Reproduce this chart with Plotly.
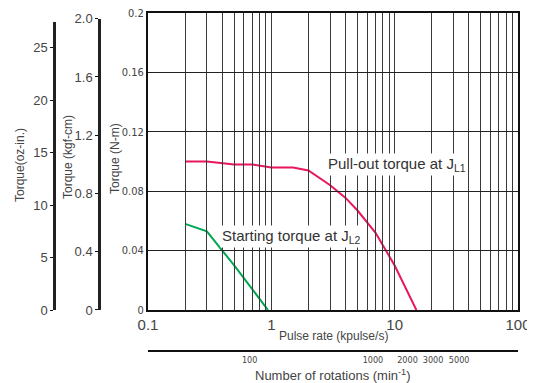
import plotly.graph_objects as go
import math

# ---- data ----
pullout_x = [0.2, 0.3, 0.5, 0.7, 1.0, 1.5, 2.0, 3.0, 4.0, 5.0, 7.0, 10.0, 15.0]
pullout_y = [0.100, 0.100, 0.098, 0.098, 0.096, 0.096, 0.094, 0.084, 0.0755, 0.067, 0.052, 0.030, 0.0]
start_x = [0.2, 0.3, 0.5, 0.94]
start_y = [0.058, 0.053, 0.030, 0.0]

x_minor = [m * 10 ** e for e in (-1, 0, 1) for m in range(1, 10)] + [100]
x_labels = {0.1: "0.1", 1: "1", 10: "10", 100: "100"}
nm_ticks = [0, 0.04, 0.08, 0.12, 0.16, 0.2]
nm_text = ["0", "0.04", "0.08", "0.12", "0.16", "0.2"]
kgf_ticks = [0, 0.4, 0.8, 1.2, 1.6, 2.0]
kgf_text = ["0", "0.4", "0.8", "1.2", "1.6", "2.0"]
oz_ticks = [0, 5, 10, 15, 20, 25]
rpm_ticks = [100, 1000, 2000, 3000, 5000]
rpm_text = ["100", "1000", "2000&nbsp;&nbsp;", "&nbsp;3000", "5000"]

NM_TO_KGFCM = 10.197
NM_TO_OZIN = 141.612
RPM_PER_KPPS = 150.0

# ---- layout geometry (page px; page body has an 8px margin) ----
OFF = 8
W, H = 535 - OFF, 383 - OFF
ML, MR, MT, MB = 2, 17, 5, 5
PW, PH = W - ML - MR, H - MT - MB
def px_x(p): return (p - OFF - ML) / PW
def px_y(p): return (H - MB - (p - OFF)) / PH

plot_left, plot_bottom, plot_top = 148, 310, 13
ydom0 = px_y(plot_bottom)
xdom = [px_x(plot_left), 1]
px_per_nm = (plot_bottom - plot_top) / 0.2

nm_max = 0.2
kgf_max = 2.0
oz_max = 27.5
kgf_top_px = plot_bottom - kgf_max / NM_TO_KGFCM * px_per_nm
oz_top_px = plot_bottom - oz_max / NM_TO_OZIN * px_per_nm

fig = go.Figure()
fig.add_trace(go.Scatter(x=pullout_x, y=pullout_y, mode="lines",
                         line=dict(color="#E8175D", width=2), showlegend=False, hoverinfo="skip"))
fig.add_trace(go.Scatter(x=start_x, y=start_y, mode="lines",
                         line=dict(color="#00A651", width=2), showlegend=False, hoverinfo="skip"))
# carriers for secondary axes
fig.add_trace(go.Scatter(x=[0.1, 0.1], y=[0, 2.0], xaxis="x", yaxis="y2", mode="lines",
                         line=dict(width=0), showlegend=False, hoverinfo="skip"))
fig.add_trace(go.Scatter(x=[0.1, 0.1], y=[0, 25], xaxis="x", yaxis="y3", mode="lines",
                         line=dict(width=0), showlegend=False, hoverinfo="skip"))
fig.add_trace(go.Scatter(x=[100, 1000], y=[0, 0], xaxis="x2", yaxis="y", mode="lines",
                         line=dict(width=0), showlegend=False, hoverinfo="skip"))

tick_font = dict(family="Liberation Sans, Arial", color="#444")
narrow = dict(family="Liberation Sans Narrow, DejaVu Sans Condensed, Roboto Condensed, Liberation Sans",
              color="#444")

fig.update_layout(
    width=W, height=H,
    margin=dict(l=ML, r=MR, t=MT, b=MB, autoexpand=False),
    paper_bgcolor="white", plot_bgcolor="rgba(0,0,0,0)",
    xaxis=dict(type="log", range=[-1, 2], domain=xdom, anchor="y", automargin=False,
               tickvals=x_minor,
               ticktext=[x_labels.get(round(v, 6), "") for v in x_minor],
               ticks="", showgrid=True, gridcolor="#3a3a3a", gridwidth=1.1,
               showline=True, linecolor="#111", linewidth=2, mirror=True,
               ticklabeloverflow="allow", tickangle=0,
               tickfont=dict(size=15, **tick_font), zeroline=False),
    yaxis=dict(range=[0, nm_max], domain=[ydom0, 1], anchor="x", automargin=False,
               tickvals=nm_ticks, ticktext=nm_text, ticks="", ticklabeloverflow="allow",
               showgrid=True, gridcolor="#222", gridwidth=1.4,
               showline=True, linecolor="#111", linewidth=2, mirror=True,
               tickfont=dict(size=11, **narrow), zeroline=False),
    yaxis2=dict(range=[0, kgf_max], domain=[ydom0, px_y(kgf_top_px)], anchor="free",
                position=px_x(99), tickvals=kgf_ticks, ticktext=kgf_text, automargin=False,
                ticks="outside", ticklen=3, tickcolor="#111", ticklabeloverflow="allow",
                showgrid=False, zeroline=False,
                showline=True, linecolor="#222", linewidth=2.5,
                tickfont=dict(size=13, **tick_font)),
    yaxis3=dict(range=[0, oz_max], domain=[ydom0, px_y(oz_top_px)], anchor="free",
                position=px_x(54), tickvals=oz_ticks, automargin=False,
                ticks="outside", ticklen=3, tickcolor="#111", ticklabeloverflow="allow",
                showgrid=False, zeroline=False,
                showline=True, linecolor="#222", linewidth=2.5,
                tickfont=dict(size=13, **tick_font)),
    xaxis2=dict(type="log", range=[math.log10(0.1 * RPM_PER_KPPS), math.log10(100 * RPM_PER_KPPS)],
                domain=xdom, anchor="free", position=px_y(351), automargin=False,
                tickvals=rpm_ticks, ticktext=rpm_text, ticks="", showgrid=False, zeroline=False,
                tickangle=0,
                showline=True, linecolor="#111", linewidth=2, ticklabeloverflow="allow",
                tickfont=dict(size=9, **narrow)),
)

title_font = dict(family="Liberation Sans, Arial", size=12, color="#444")
ann = [
    dict(text="Torque(oz-in.)", x=px_x(20), y=px_y(165), textangle=-90, font=title_font),
    dict(text="Torque (kgf-cm)", x=px_x(68), y=px_y(157), textangle=-90, font=title_font),
    dict(text="Torque (N-m)", x=px_x(115), y=px_y(159), textangle=-90, font=title_font),
    dict(text="Pulse rate (kpulse/s)", x=px_x(333), y=px_y(336),
         font=dict(family="Liberation Sans, Arial", size=12, color="#444")),
    dict(text="Number of rotations (min<sup>-1</sup>)", x=px_x(333), y=px_y(375),
         font=dict(family="Liberation Sans, Arial", size=13, color="#444")),
]
for a in ann:
    fig.add_annotation(xref="paper", yref="paper", showarrow=False,
                       xanchor="center", yanchor="middle", **a)

lab_font = dict(family="Liberation Sans, Arial", size=15, color="#333")
fig.add_annotation(text="Pull-out torque at J<sub>L1</sub>", xref="paper", yref="paper",
                   x=px_x(326), y=px_y(164), xanchor="left", yanchor="middle",
                   showarrow=False, bgcolor="white", borderpad=1, font=lab_font)
fig.add_annotation(text="Starting torque at J<sub>L2</sub>", xref="paper", yref="paper",
                   x=px_x(220), y=px_y(236), xanchor="left", yanchor="middle",
                   showarrow=False, bgcolor="white", borderpad=1, font=lab_font)

fig.write_html("out.html")
